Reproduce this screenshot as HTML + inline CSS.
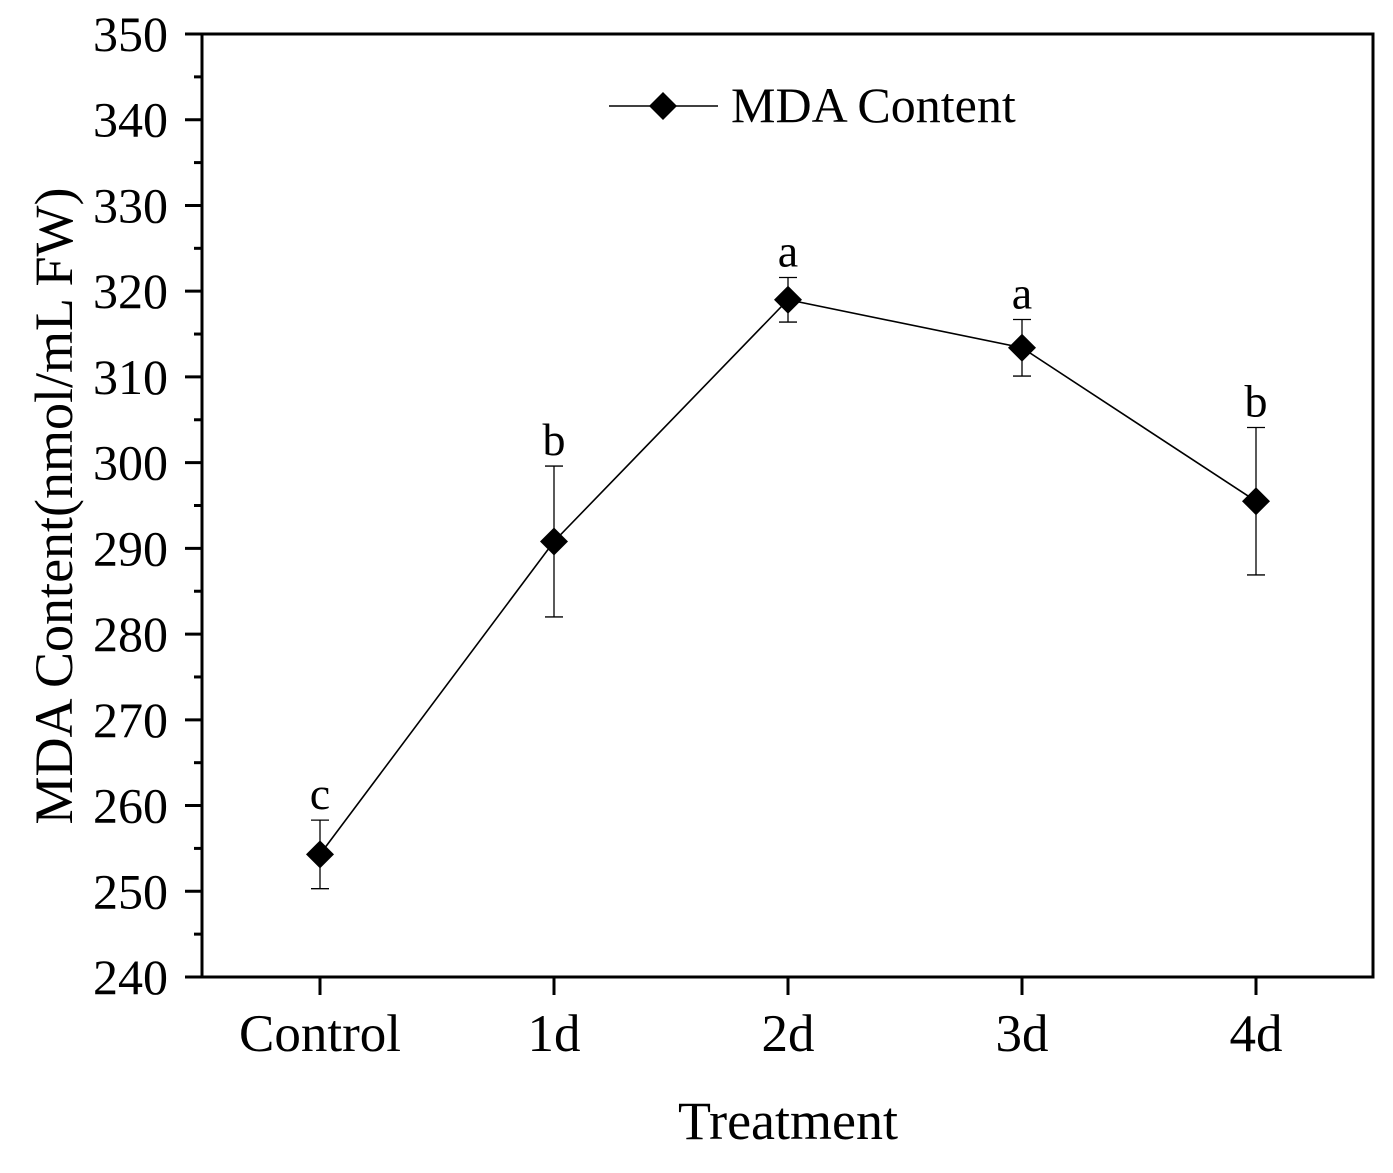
<!DOCTYPE html>
<html><head><meta charset="utf-8"><style>
html,body{margin:0;padding:0;background:#fff;}
svg text{font-family:"Liberation Serif",serif;fill:#000;}
</style></head><body>
<svg id="chart" width="1393" height="1168" viewBox="0 0 1393 1168" xmlns="http://www.w3.org/2000/svg"></svg>
<script>
const categories = ["Control","1d","2d","3d","4d"];
const values = [254.3, 290.8, 319.0, 313.4, 295.5];
const errors = [4.0, 8.8, 2.6, 3.3, 8.6];
const letters = ["c","b","a","a","b"];
const yTicks = [240,250,260,270,280,290,300,310,320,330,340,350];

const NS="http://www.w3.org/2000/svg";
const svg=document.getElementById('chart');
const L=202,R=1373,T=34,B=977,yMin=240,yMax=350;
const x0=320,dx=234;
function xs(i){return x0+i*dx;}
function ys(v){return B-(v-yMin)/(yMax-yMin)*(B-T);}
function mk(tag,attrs,parent){const e=document.createElementNS(NS,tag);for(const k in attrs)e.setAttribute(k,attrs[k]);(parent||svg).appendChild(e);return e;}

const frame=mk('rect',{x:L,y:T,width:R-L,height:B-T,fill:'none',stroke:'#000','stroke-width':3});



yTicks.forEach((v,i)=>{
  const y=ys(v);
  const t=mk('line',{x1:L-17,x2:L,y1:y,y2:y,stroke:'#000','stroke-width':3});
  
  
  const lb=mk('text',{x:168,y:y+17,'text-anchor':'end','font-size':50});
  lb.textContent=v;
  
  
  if(i<yTicks.length-1){
    const ym=ys(v+5);
    const m=mk('line',{x1:L-8,x2:L,y1:ym,y2:ym,stroke:'#000','stroke-width':3});
    
    
  }
});
categories.forEach((c,i)=>{
  const x=xs(i);
  const t=mk('line',{x1:x,x2:x,y1:B,y2:B+18,stroke:'#000','stroke-width':3});
  
  
  const lb=mk('text',{x:x,y:1051,'text-anchor':'middle','font-size':53});
  lb.textContent=c;
  
  
});

const xt=mk('text',{x:788,y:1139,'text-anchor':'middle','font-size':54});
xt.textContent='Treatment';


const yt=mk('text',{x:0,y:0,'text-anchor':'middle','font-size':54,transform:'translate(72,506) rotate(-90)'});
yt.textContent='MDA Content(nmol/mL FW)';



const pts=values.map((v,i)=>xs(i)+','+ys(v)).join(' ');
const pl=mk('polyline',{points:pts,fill:'none',stroke:'#000','stroke-width':1.6});



values.forEach((v,i)=>{
  const x=xs(i),yt2=ys(v+errors[i]),yb=ys(v-errors[i]);
  const g=mk('g',{});
  
  
  mk('line',{x1:x,x2:x,y1:yt2,y2:yb,stroke:'#000','stroke-width':1.3},g);
  mk('line',{x1:x-9,x2:x+9,y1:yt2,y2:yt2,stroke:'#000','stroke-width':1.3},g);
  mk('line',{x1:x-9,x2:x+9,y1:yb,y2:yb,stroke:'#000','stroke-width':1.3},g);
  const y=ys(v);
  const d=mk('polygon',{points:`${x},${y-14} ${x+14},${y} ${x},${y+14} ${x-14},${y}`,fill:'#000'});
  
  
  const lt=mk('text',{x:x,y:yt2-11,'text-anchor':'middle','font-size':46});
  lt.textContent=letters[i];
  
  
});

const lg=mk('g',{});


mk('line',{x1:609,x2:718,y1:106,y2:106,stroke:'#000','stroke-width':1.6},lg);
mk('polygon',{points:'663,92 677,106 663,120 649,106',fill:'#000'},lg);
const lgt=mk('text',{x:731,y:122,'font-size':50},lg);
lgt.textContent='MDA Content';
</script>
</body></html>
